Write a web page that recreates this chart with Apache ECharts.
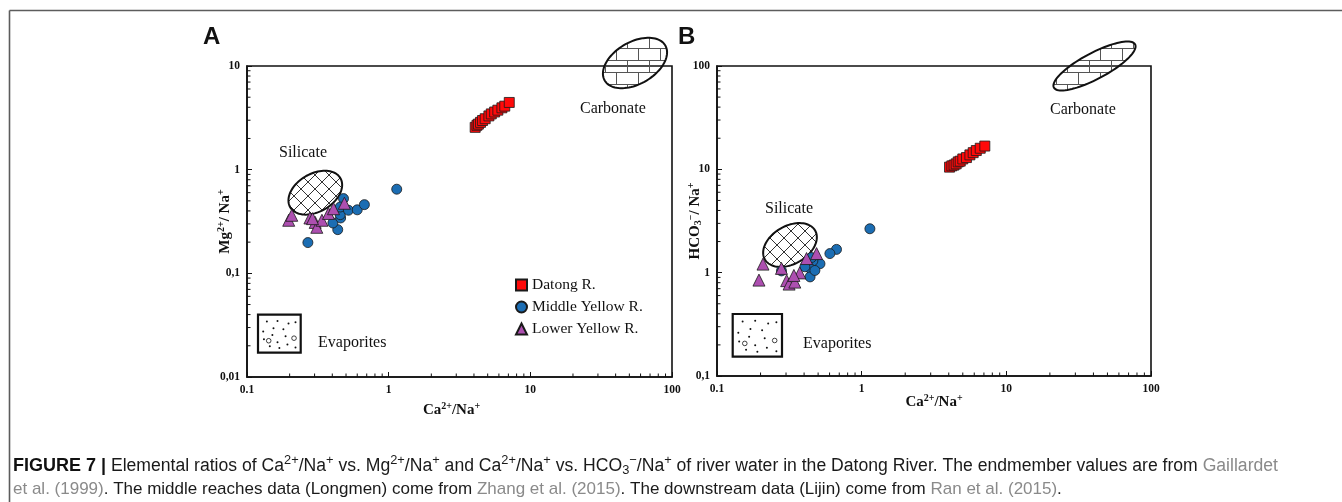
<!DOCTYPE html>
<html>
<head>
<meta charset="utf-8">
<title>Figure 7</title>
<script src="https://cdn.jsdelivr.net/npm/echarts@6.0.0/dist/echarts.min.js"></script>
<style>
html, body { margin: 0; padding: 0; background: #fff; }
#chart { width: 1342px; height: 502px; }
</style>
</head>
<body>
<div id="chart"></div>
<script>
// panel A: Ca/Na (x) vs Mg/Na (y)
const datongA = [[4.08, 2.56], [4.2, 2.68], [4.3, 2.75], [4.45, 2.86], [4.6, 2.98], [4.8, 3.1], [5.1, 3.3],
  [5.3, 3.45], [5.6, 3.6], [5.9, 3.75], [6.3, 3.95], [6.6, 4.1], [7.1, 4.45]];
const middleA = [[1.14, 0.648], [0.269, 0.198], [0.437, 0.264], [0.404, 0.306], [0.458, 0.342], [0.455, 0.368],
  [0.48, 0.526], [0.455, 0.436], [0.52, 0.406], [0.6, 0.41], [0.674, 0.46]];
const lowerA = [[0.197, 0.325], [0.207, 0.363], [0.278, 0.342], [0.303, 0.31], [0.311, 0.278], [0.338, 0.325],
  [0.376, 0.378], [0.408, 0.42], [0.487, 0.474], [0.29, 0.337]];

// panel B: Ca/Na (x) vs HCO3/Na (y)
const datongB = [[4.05, 10.5], [4.2, 10.8], [4.35, 11.0], [4.5, 11.3], [4.65, 11.8], [4.8, 12.0], [5.0, 12.6],
  [5.3, 13.0], [5.6, 13.8], [5.9, 14.5], [6.2, 15.2], [6.6, 16.0], [7.1, 16.8]];
const middleB = [[1.14, 2.66], [0.67, 1.68], [0.603, 1.53], [0.515, 1.22], [0.46, 1.3], [0.44, 1.1], [0.405, 1.14],
  [0.44, 0.91], [0.475, 1.05], [0.279, 1.04], [0.45, 1.4]];
const lowerB = [[0.195, 0.847], [0.208, 1.21], [0.303, 0.837], [0.315, 0.775], [0.345, 0.81], [0.373, 0.995],
  [0.34, 0.94], [0.416, 1.37], [0.488, 1.53], [0.279, 1.1]];

const seriesNames = ['Datong R.', 'Middle Yellow R.', 'Lower Yellow R.'];
const xTicks = ['0.1', '1', '10', '100'];
const yTicksA = ['0,01', '0,1', '1', '10'];
const yTicksB = ['0,1', '1', '10', '100'];

const serif = "'Liberation Serif','Times New Roman',serif";
const sans = "'Liberation Sans',Arial,sans-serif";
const ink = '#111';

const chart = echarts.init(document.getElementById('chart'));

function tickFormatter(labels, min) {
  return function (v) {
    return labels[Math.round(Math.log10(v / min))] || '';
  };
}

const nameRich = {
  n: { fontFamily: serif, fontWeight: 'bold', fontSize: 15, color: ink, lineHeight: 18 },
  sup: { fontFamily: serif, fontWeight: 'bold', fontSize: 10, color: ink, lineHeight: 10, padding: [0, 0, 8, 0] },
  sub: { fontFamily: serif, fontWeight: 'bold', fontSize: 10, color: ink, lineHeight: 10, padding: [7, 0, 0, 0] }
};

function logAxis(gridIndex, min, max, labels, name, nameGap, extra) {
  return Object.assign({
    type: 'log', logBase: 10, gridIndex: gridIndex, min: min, max: max,
    name: name, nameLocation: 'middle', nameGap: nameGap, nameMoveOverlap: false,
    nameTextStyle: { rich: nameRich },
    axisLine: { show: true, lineStyle: { color: ink, width: 1.6 } },
    axisTick: { show: true, inside: true, length: 5, lineStyle: { color: ink, width: 1 } },
    minorTick: { show: false },
    splitLine: { show: false },
    axisLabel: {
      formatter: tickFormatter(labels, min), fontFamily: serif, fontWeight: 'bold', fontSize: 11.5,
      color: ink, margin: 7, showMinLabel: true, showMaxLabel: true
    }
  }, extra || {});
}

function scatter(name, data, idx, symbol, size, color) {
  return {
    type: 'scatter', name: name, data: data, xAxisIndex: idx, yAxisIndex: idx,
    symbol: symbol, symbolSize: size,
    itemStyle: { color: color, borderColor: '#1a1a1a', borderWidth: 0.8, opacity: 1 },
    emphasis: { disabled: true }
  };
}

const red = '#ff0a0a', blue = '#1b6db3', purple = '#ad4fb0';

chart.setOption({
  animation: false,
  backgroundColor: '#fff',
  grid: [
    { left: 247, top: 66, width: 425, height: 311, show: true, borderColor: ink, borderWidth: 1.6, outerBoundsMode: 'none' },
    { left: 717, top: 66, width: 434, height: 310, show: true, borderColor: ink, borderWidth: 1.6, outerBoundsMode: 'none' }
  ],
  xAxis: [
    logAxis(0, 0.1, 100, xTicks, '{n|Ca}{sup|2+}{n|/Na}{sup|+}', 24, { nameTextStyle: { rich: nameRich, padding: [0, 16, 0, 0] } }),
    logAxis(1, 0.1, 100, xTicks, '{n|Ca}{sup|2+}{n|/Na}{sup|+}', 17)
  ],
  yAxis: [
    logAxis(0, 0.01, 10, yTicksA, '{n|Mg}{sup|2+}{n|/ Na}{sup|+}', 13),
    logAxis(1, 0.1, 100, yTicksB, '{n|HCO}{sub|3}{sup|\u2212}{n|/ Na}{sup|+}', 13)
  ],
  legend: {
    data: seriesNames, orient: 'vertical', left: 510, top: 272,
    itemWidth: 11, itemHeight: 11, itemGap: 6, selectedMode: false,
    textStyle: { fontFamily: serif, fontSize: 15.5, lineHeight: 14, color: ink }
  },
  series: [
    scatter(seriesNames[0], datongA, 0, 'rect', 10, red),
    scatter(seriesNames[1], middleA, 0, 'circle', 10, blue),
    scatter(seriesNames[2], lowerA, 0, 'triangle', 12, purple),
    scatter(seriesNames[0], datongB, 1, 'rect', 10, red),
    scatter(seriesNames[1], middleB, 1, 'circle', 10, blue),
    scatter(seriesNames[2], lowerB, 1, 'triangle', 12, purple)
  ]
});

// ---- decorations ----
function hatchPattern() {
  const c = document.createElement('canvas');
  c.width = c.height = 14;
  const ctx = c.getContext('2d');
  ctx.strokeStyle = '#333';
  ctx.lineWidth = 1;
  ctx.beginPath();
  ctx.moveTo(0, 0); ctx.lineTo(14, 14);
  ctx.moveTo(14, 0); ctx.lineTo(0, 14);
  ctx.stroke();
  return { image: c, repeat: 'repeat' };
}

function brickPattern() {
  const c = document.createElement('canvas');
  c.width = 22; c.height = 24;
  const ctx = c.getContext('2d');
  ctx.strokeStyle = '#555';
  ctx.lineWidth = 1;
  ctx.beginPath();
  ctx.moveTo(0, 0.5); ctx.lineTo(22, 0.5);
  ctx.moveTo(0, 12.5); ctx.lineTo(22, 12.5);
  ctx.moveTo(0.5, 0); ctx.lineTo(0.5, 12);
  ctx.moveTo(11.5, 12); ctx.lineTo(11.5, 24);
  ctx.stroke();
  return { image: c, repeat: 'repeat' };
}

function ellipse(cx, cy, a, b, deg, fill) {
  const t = deg * Math.PI / 180, pts = [];
  for (let i = 0; i < 90; i++) {
    const s = i / 90 * 2 * Math.PI;
    const u = a * Math.cos(s), v = b * Math.sin(s);
    pts.push([cx + u * Math.cos(t) + v * Math.sin(t), cy - u * Math.sin(t) + v * Math.cos(t)]);
  }
  return { type: 'polygon', z: 1, silent: true, shape: { points: pts },
    style: { fill: fill, stroke: ink, lineWidth: 2 } };
}

function label(x, y, text, font, color) {
  return { type: 'text', x: x, y: y, z: 10, silent: true,
    style: { text: text, font: font, fill: color || ink, align: 'left', verticalAlign: 'middle',
      textAlign: 'left', textVerticalAlign: 'middle' } };
}

const dotSpots = [[0.16, 0.12], [0.45, 0.1], [0.75, 0.18], [0.94, 0.14], [0.34, 0.33], [0.61, 0.36], [0.06, 0.43],
  [0.31, 0.54], [0.67, 0.58], [0.08, 0.67], [0.45, 0.77], [0.72, 0.84], [0.24, 0.89], [0.94, 0.93], [0.5, 0.95]];
const ringSpots = [[0.21, 0.72], [0.9, 0.64]];

function evapBox(x, y, w, h) {
  const out = [{ type: 'rect', z: 1, silent: true, shape: { x: x, y: y, width: w, height: h },
    style: { fill: '#fff', stroke: ink, lineWidth: 2.2 } }];
  dotSpots.forEach(function (d) {
    out.push({ type: 'circle', z: 2, silent: true, shape: { cx: x + 3 + d[0] * (w - 6), cy: y + 3 + d[1] * (h - 6), r: 1 },
      style: { fill: ink } });
  });
  ringSpots.forEach(function (d) {
    out.push({ type: 'circle', z: 2, silent: true, shape: { cx: x + 3 + d[0] * (w - 6), cy: y + 3 + d[1] * (h - 6), r: 2.3 },
      style: { fill: '#fff', stroke: ink, lineWidth: 0.8 } });
  });
  return out;
}

function minorTicks(gridIndex, xMin, xMax, yMin, yMax) {
  const out = [];
  for (let d = xMin; d < xMax * 0.99; d *= 10) {
    for (let k = 2; k <= 9; k++) {
      const p = chart.convertToPixel({ gridIndex: gridIndex }, [d * k, yMin]);
      out.push({ type: 'line', z: 5, silent: true, shape: { x1: p[0], y1: p[1], x2: p[0], y2: p[1] - 3.5 },
        style: { stroke: ink, lineWidth: 1 } });
    }
  }
  for (let d = yMin; d < yMax * 0.99; d *= 10) {
    for (let k = 2; k <= 9; k++) {
      const p = chart.convertToPixel({ gridIndex: gridIndex }, [xMin, d * k]);
      out.push({ type: 'line', z: 5, silent: true, shape: { x1: p[0], y1: p[1], x2: p[0] + 3.5, y2: p[1] },
        style: { stroke: ink, lineWidth: 1 } });
    }
  }
  return out;
}

function capRich(size) {
  const sup = size * 0.73;
  return {
    b: { fontFamily: sans, fontWeight: 'bold', fontSize: 18, lineHeight: 22, fill: '#111' },
    n: { fontFamily: sans, fontSize: size, lineHeight: 22, fill: '#1a1a1a' },
    g: { fontFamily: sans, fontSize: size, lineHeight: 22, fill: '#8a8a8a' },
    sup: { fontFamily: sans, fontSize: sup, lineHeight: 11, padding: [0, 0, 11, 0], fill: '#1a1a1a' },
    sub: { fontFamily: sans, fontSize: sup, lineHeight: 11, padding: [9, 0, 0, 0], fill: '#1a1a1a' }
  };
}
const capLine1 = '{b|FIGURE 7 |}{n| Elemental ratios of Ca}{sup|2+}{n|/Na}{sup|+}{n| vs. Mg}{sup|2+}{n|/Na}{sup|+}' +
  '{n| and Ca}{sup|2+}{n|/Na}{sup|+}{n| vs. HCO}{sub|3}{sup|\u2212}{n|/Na}{sup|+}' +
  '{n| of river water in the Datong River. The endmember values are from }{g|Gaillardet}';
const capLine2 = '{g|et al. (1999)}{n|. The middle reaches data (Longmen) come from }{g|Zhang et al. (2015)}' +
  '{n|. The downstream data (Lijin) come from }{g|Ran et al. (2015)}{n|.}';

const hatch = hatchPattern(), brick = brickPattern();
const annFont = '16px ' + serif;

let graphics = [
  { type: 'line', silent: true, shape: { x1: 9.5, y1: 10.5, x2: 1342, y2: 10.5 }, style: { stroke: '#5c5c5c', lineWidth: 1.6 } },
  { type: 'line', silent: true, shape: { x1: 9.5, y1: 10.5, x2: 9.5, y2: 502 }, style: { stroke: '#5c5c5c', lineWidth: 1.6 } },
  label(203, 37, 'A', 'bold 24px ' + sans),
  label(678, 37, 'B', 'bold 24px ' + sans),
  ellipse(315.3, 192.7, 29, 19, 30, hatch),
  ellipse(635, 63, 35, 21, 30, brick),
  ellipse(790, 245, 29, 19, 30, hatch),
  ellipse(1094.5, 66, 46, 13, 28, brick),
  label(580, 109, 'Carbonate', annFont),
  label(279, 153, 'Silicate', annFont),
  label(318, 343, 'Evaporites', annFont),
  label(1050, 110, 'Carbonate', annFont),
  label(765, 209, 'Silicate', annFont),
  label(803, 344, 'Evaporites', annFont),
  { type: 'text', x: 13, y: 466, silent: true, style: { text: capLine1, rich: capRich(17.6), verticalAlign: 'middle', textVerticalAlign: 'middle' } },
  { type: 'text', x: 13, y: 489, silent: true, style: { text: capLine2, rich: capRich(17), verticalAlign: 'middle', textVerticalAlign: 'middle' } }
];
graphics = graphics.concat(evapBox(258, 314.7, 42.7, 38), evapBox(732.7, 314, 49.3, 42.7));
graphics = graphics.concat(minorTicks(0, 0.1, 100, 0.01, 10), minorTicks(1, 0.1, 100, 0.1, 100));

chart.setOption({ graphic: graphics });
</script>
</body>
</html>
